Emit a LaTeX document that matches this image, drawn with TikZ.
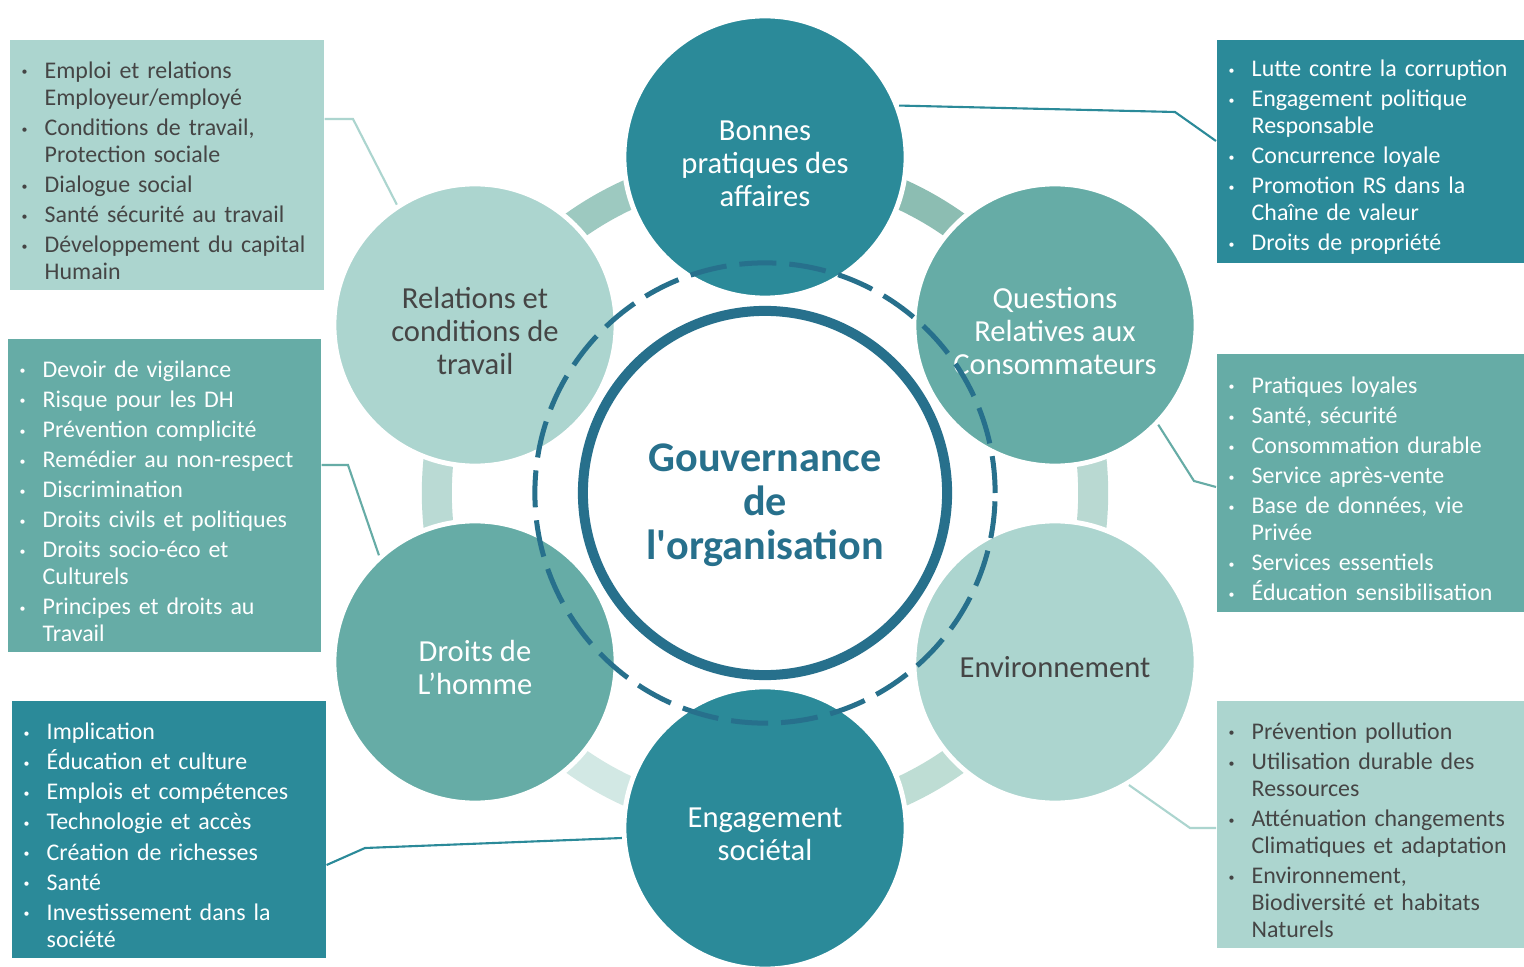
\documentclass[tikz,border=0pt]{standalone}
\usepackage{fontspec}
\setmainfont{Carlito}
\usetikzlibrary{positioning}
\definecolor{tealdark}{HTML}{2B8A99}
\definecolor{tealmid}{HTML}{66ACA6}
\definecolor{teallight}{HTML}{ACD5CF}
\definecolor{ringblue}{HTML}{27708C}
\definecolor{textgray}{HTML}{454545}
\definecolor{bridgeA}{HTML}{B9D9D2}
\definecolor{bridgeB}{HTML}{8CBDB2}
\definecolor{bridgeC}{HTML}{9DC9C0}
\definecolor{bridgeD}{HTML}{BADAD4}
\definecolor{bridgeE}{HTML}{D2E8E4}
\definecolor{bridgeF}{HTML}{BEDDD4}
\newcommand{\bul}[1]{\hangindent=0.23cm\hangafter=1\noindent\makebox[0.23cm][l]{\raisebox{0.2ex}{\scalebox{0.5}{\textbullet}}}#1\par}
\newcommand{\listend}{\kern-0.12cm}
\newcommand{\lowered}[2]{\raisebox{-#1}[\height][\depth]{\begin{tabular}{@{}c@{}}#2\end{tabular}}}
\tikzset{
  pillar/.style={circle, minimum size=2.82cm, inner sep=0pt, draw=white, line width=1.4pt, font=\fontsize{8.7}{9.4}\selectfont},
  pildark/.style={pillar, fill=tealdark, text=white},
  pilmid/.style={pillar, fill=tealmid, text=white},
  pillight/.style={pillar, fill=teallight, text=textgray},
  topic/.style={anchor=north west, inner xsep=0.12cm, inner ysep=0pt, align=left, font=\fontsize{6.8}{7.7}\selectfont\setlength{\parskip}{0.85pt}},
  topdark/.style={topic, fill=tealdark, text=white},
  topmid/.style={topic, fill=tealmid, text=white},
  toplight/.style={topic, fill=teallight, text=textgray},
  link/.style={line width=0.6pt},
  bridge/.style={line width=0.3cm}
}
\begin{document}
\begin{tikzpicture}[x=0.01cm, y=-0.01cm]
\useasboundingbox (0,0) rectangle (1524,967);
\fill[white] (0,0) rectangle (1524,967);
\coordinate (mid) at (765,493);
% bridges between the pillars
\foreach \a/\col in {0/bridgeA, 60/bridgeB, 120/bridgeC, 180/bridgeD, 240/bridgeE, 300/bridgeF}
  \draw[bridge, \col] (mid) ++(\a-13:3.28cm) arc[start angle=\a-13, end angle=\a+13, radius=3.28cm];
% pillars
\node[pildark] (bonnes) at (765,157) {\lowered{0.1cm}{Bonnes\\pratiques des\\affaires}};
\node[pillight] (relat) at (475,325) {\lowered{0.1cm}{Relations et\\conditions de\\travail}};
\node[pilmid] (quest) at (1055,325) {\lowered{0.1cm}{Questions\\Relatives aux\\Consommateurs}};
\node[pilmid] (droits) at (475,662) {\lowered{0.09cm}{Droits de\\L’homme}};
\node[pillight] (envir) at (1055,662) {\lowered{0.09cm}{Environnement}};
\node[pildark] (engag) at (765,828) {\lowered{0.09cm}{Engagement\\sociétal}};
% centre
\draw[ringblue, line width=0.05cm, dash pattern=on 0.37cm off 0.13cm] (mid) circle[radius=2.3cm];
\node[circle, draw=ringblue, line width=0.1cm, minimum size=3.64cm, inner sep=0pt, text=ringblue, font=\bfseries\fontsize{12}{12.5}\selectfont] (gov) at (mid) {\lowered{0.14cm}{Gouvernance\\de\\l\textquotesingle organisation}};
% boxes
\node[toplight, text width=2.90cm, minimum height=2.5cm] (boxRel) at (9,39) {%
\bul{Emploi et relations\newline Employeur/employé}
\bul{Conditions de travail,\newline Protection sociale}
\bul{Dialogue social}
\bul{Santé sécurité au travail}
\bul{Développement du capital\newline Humain}\listend};
\node[topdark, text width=2.92cm, minimum height=2.23cm] (boxBon) at (1216,39) {%
\bul{Lutte contre la corruption}
\bul{Engagement politique\newline Responsable}
\bul{Concurrence loyale}
\bul{Promotion RS dans la\newline Chaîne de valeur}
\bul{Droits de propriété}\listend};
\node[topmid, text width=2.89cm, minimum height=3.13cm] (boxDro) at (7,338) {%
\bul{Devoir de vigilance}
\bul{Risque pour les DH}
\bul{Prévention complicité}
\bul{Remédier au non-respect}
\bul{Discrimination}
\bul{Droits civils et politiques}
\bul{Droits socio-éco et\newline Culturels}
\bul{Principes et droits au\newline Travail}\listend};
\node[topmid, text width=2.92cm, minimum height=2.58cm] (boxQue) at (1216,353) {%
\bul{Pratiques loyales}
\bul{Santé, sécurité}
\bul{Consommation durable}
\bul{Service après-vente}
\bul{Base de données, vie\newline Privée}
\bul{Services essentiels}
\bul{Éducation sensibilisation}\listend};
\node[topdark, text width=2.90cm, minimum height=2.57cm] (boxEng) at (11,700) {%
\bul{Implication}
\bul{Éducation et culture}
\bul{Emplois et compétences}
\bul{Technologie et accès}
\bul{Création de richesses}
\bul{Santé}
\bul{Investissement dans la\newline société}\listend};
\node[toplight, text width=2.92cm, minimum height=2.47cm] (boxEnv) at (1216,700) {%
\bul{Prévention pollution}
\bul{Utilisation durable des\newline Ressources}
\bul{Atténuation changements\newline Climatiques et adaptation}
\bul{Environnement,\newline Biodiversité et habitats\newline Naturels}\listend};
% links
\coordinate (kRel) at (353,119);
\coordinate (kBon) at (1175,112);
\coordinate (eBon) at (1216,141);
\coordinate (kDro) at (348,465);
\coordinate (kQue) at (1194,481);
\coordinate (eQue) at (1216,487);
\coordinate (kEng) at (365,848);
\coordinate (sEng) at (325,865);
\coordinate (kEnv) at (1190,828);
\draw[link, teallight] (kRel -| boxRel.east) -- (kRel) -- (relat.123);
\draw[link, tealdark] (bonnes.21) -- (kBon) -- (boxBon.west |- eBon);
\draw[link, tealmid] (kDro -| boxDro.east) -- (kDro) -- (droits.132);
\draw[link, tealmid] (quest.-44) -- (kQue) -- (boxQue.west |- eQue);
\draw[link, tealdark] (boxEng.east |- sEng) -- (kEng) -- (engag.184);
\draw[link, teallight] (envir.-59) -- (kEnv) -- (kEnv -| boxEnv.west);
\end{tikzpicture}
\end{document}
